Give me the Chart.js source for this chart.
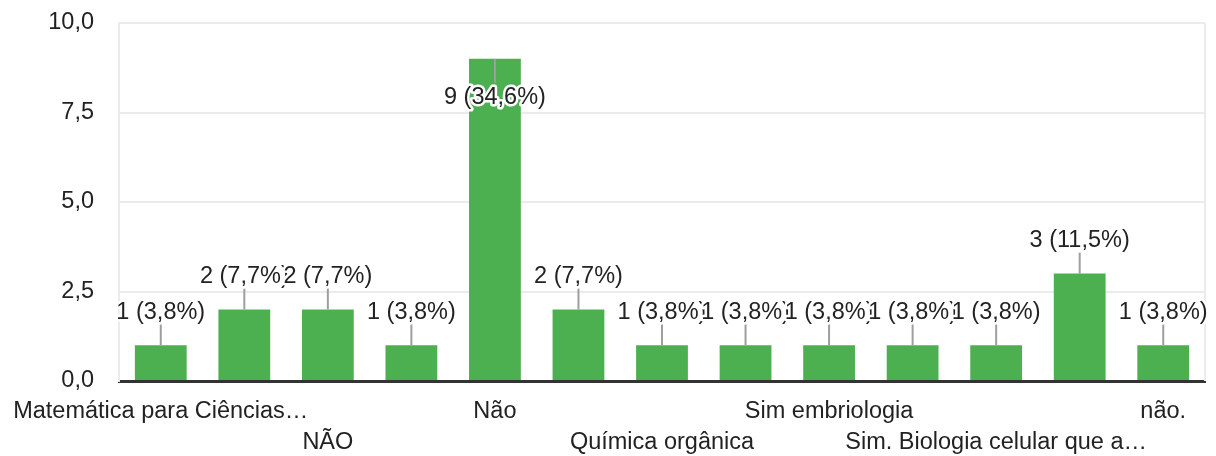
<!DOCTYPE html>
<html><head><meta charset="utf-8">
<script src="https://cdn.jsdelivr.net/npm/chart.js@4"></script>
<style>html,body{margin:0;padding:0;background:#fff;overflow:hidden}#wrap{width:1216px;height:456px;position:relative}</style>
</head><body><div id="wrap"><canvas id="c" width="1216" height="456"></canvas></div>
<script>
// Category labels (only the ones legible in the reference; others left blank)
const categories = ['Matemática para Ciências…', '', 'NÃO', '', 'Não', '', 'Química orgânica', '', 'Sim embriologia', '', 'Sim. Biologia celular que a…', '', 'não.'];
const counts = [1, 2, 2, 1, 9, 2, 1, 1, 1, 1, 1, 3, 1];
const yTickValues = [0, 2.5, 5, 7.5, 10];

const FONT_FAMILY = '"Liberation Sans", Arial, sans-serif';
const FONT_SIZE = 23.5;
const total = counts.reduce((a, b) => a + b, 0);
const fmt = (v, d) => v.toFixed(d).replace('.', ',');

const frameLines = {
  id: 'frameLines',
  beforeDatasetsDraw(chart) {
    const {ctx, chartArea: a} = chart;
    ctx.save();
    ctx.strokeStyle = '#ebebeb';
    ctx.lineWidth = 2;
    ctx.beginPath();
    ctx.moveTo(a.right, a.top);
    ctx.lineTo(a.right, a.bottom);
    ctx.stroke();
    ctx.restore();
  }
};

const barLabels = {
  id: 'barLabels',
  afterDatasetsDraw(chart) {
    const {ctx, chartArea: a} = chart;
    const meta = chart.getDatasetMeta(0);
    const items = meta.data.map((bar, i) => {
      const v = counts[i];
      const text = v + ' (' + fmt(v / total * 100, 1) + '%)';
      const top = bar.y;
      const inside = top - 50 < a.top;
      return inside
        ? {x: bar.x, y1: top, y2: top + 24, ty: top + 39, text}
        : {x: bar.x, y1: top, y2: top - 21, ty: top - 33, text};
    });
    ctx.save();
    ctx.strokeStyle = '#9e9e9e';
    ctx.lineWidth = 2;
    items.forEach(it => {
      ctx.beginPath();
      ctx.moveTo(it.x, it.y1);
      ctx.lineTo(it.x, it.y2);
      ctx.stroke();
    });
    ctx.font = FONT_SIZE + 'px ' + FONT_FAMILY;
    ctx.textAlign = 'center';
    ctx.textBaseline = 'middle';
    ctx.lineJoin = 'round';
    items.forEach(it => {
      ctx.strokeStyle = '#ffffff';
      ctx.lineWidth = 5;
      ctx.strokeText(it.text, it.x, it.ty);
      ctx.fillStyle = '#222222';
      ctx.fillText(it.text, it.x, it.ty);
    });
    ctx.restore();
  }
};

new Chart(document.getElementById('c'), {
  type: 'bar',
  data: {
    labels: categories,
    datasets: [{
      data: counts,
      backgroundColor: '#4caf50',
      borderWidth: 0,
      categoryPercentage: 1,
      barPercentage: 0.62
    }]
  },
  options: {
    responsive: false,
    animation: false,
    layout: {padding: {top: 23, right: 11, left: 0, bottom: 0}},
    plugins: {legend: {display: false}, tooltip: {enabled: false}},
    scales: {
      x: {
        grid: {display: false, drawTicks: false},
        border: {display: true, color: '#333333', width: 3},
        ticks: {
          autoSkip: false,
          maxRotation: 0,
          minRotation: 0,
          padding: 15,
          color: '#222222',
          font: {family: FONT_FAMILY, size: FONT_SIZE, lineHeight: 31 / FONT_SIZE},
          callback: function (value, index) {
            const lab = categories[index];
            if (!lab) return '';
            return ((index / 2) % 2 === 1) ? ['', lab] : lab;
          }
        },
        afterFit(scale) {
          scale.height = 75;
          scale.paddingLeft = 0;
          scale.paddingRight = 0;
        }
      },
      y: {
        min: 0,
        max: 10,
        afterBuildTicks(scale) {
          scale.ticks = yTickValues.map(v => ({value: v}));
        },
        grid: {color: '#ebebeb', lineWidth: 2, drawTicks: false},
        border: {display: true, color: '#ebebeb', width: 2},
        ticks: {
          padding: 25,
          color: '#222222',
          font: {family: FONT_FAMILY, size: FONT_SIZE},
          callback: v => fmt(v, 1)
        },
        afterFit(scale) {
          scale.width = 119;
          scale.paddingTop = 0;
          scale.paddingBottom = 0;
        }
      }
    }
  },
  plugins: [frameLines, barLabels]
});
</script>
</body></html>
